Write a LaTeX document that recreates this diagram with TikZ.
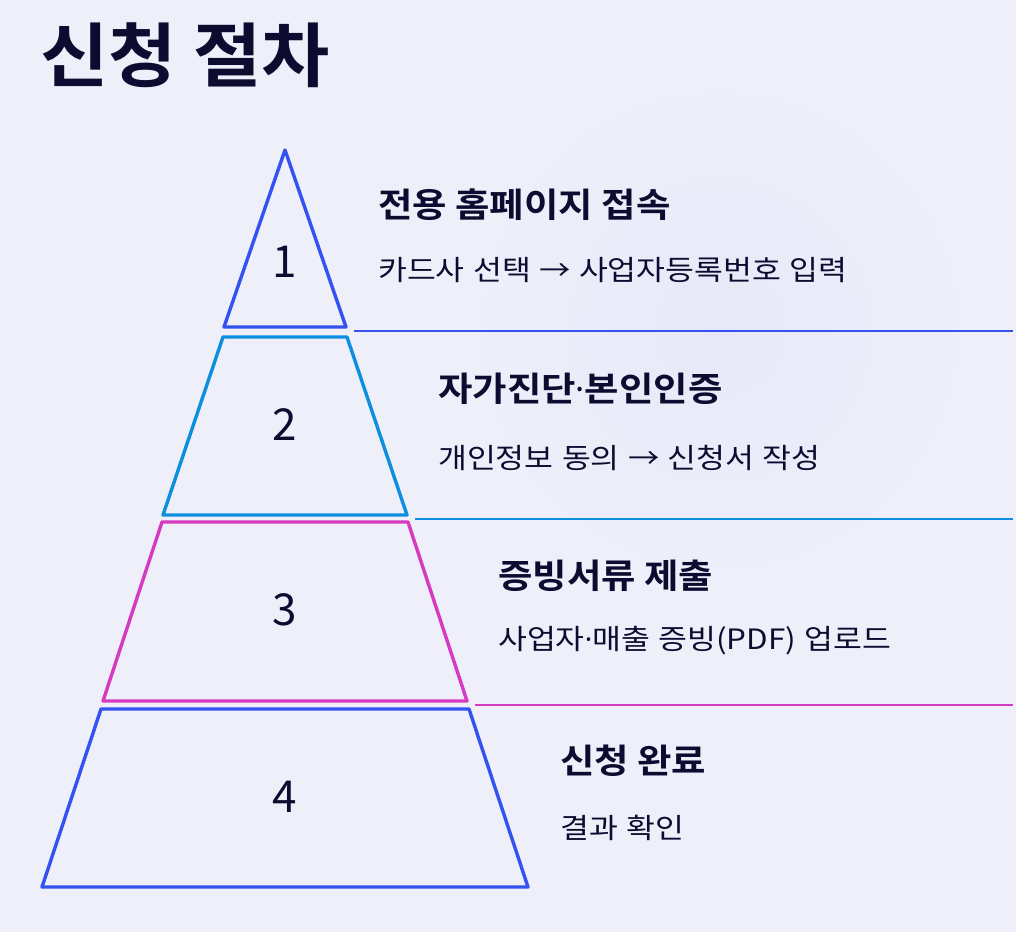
\documentclass[tikz,border=0pt]{standalone}
\usepackage{fontspec}
\setmainfont{Noto Sans CJK KR}[BoldFont={Noto Sans CJK KR Bold}]
\newfontfamily\titlefont{Noto Sans CJK KR}[BoldFont={Noto Sans CJK KR Bold}, FakeStretch=1.06]
\newfontfamily\headfont{Noto Sans CJK KR}[BoldFont={Noto Sans CJK KR Bold}, FakeStretch=1.1]
\newfontfamily\subfont{Noto Sans CJK KR}[FakeStretch=1.12, WordSpace=1.2]
\newfontfamily\dotfont{Noto Sans}
\newcommand{\mdot}{{\dotfont ·}}
\usetikzlibrary{calc}
\definecolor{bg}{HTML}{EFEFFA}
\definecolor{glow}{HTML}{E7E9F8}
\definecolor{ink}{HTML}{0C0C30}
\definecolor{lay1}{HTML}{3352F0}
\definecolor{lay2}{HTML}{0E8EDE}
\definecolor{lay3}{HTML}{D63AC0}
\definecolor{lay4}{HTML}{3352F0}
\tikzset{
  layer/.style={draw=#1, line width=3.4pt, line join=round},
  rule/.style={draw=#1, line width=1.6pt},
  numlbl/.style={font=\fontsize{44}{44}\selectfont, text=ink, inner sep=0},
  headline/.style={font=\headfont\fontsize{34}{34}\selectfont\bfseries, text=ink, anchor=west, inner sep=0},
  subline/.style={font=\subfont\fontsize{28}{28}\selectfont, text=ink, anchor=west, inner sep=0},
  title/.style={font=\titlefont\fontsize{70}{70}\selectfont\bfseries, text=ink, anchor=west, inner sep=0},
}

\begin{document}
\begin{tikzpicture}[x=1pt, y=-1pt]
  % page
  \fill[bg] (0,0) rectangle (1016,932);
  \shade[inner color=glow, outer color=bg] (720,330) circle (260);
  \useasboundingbox (0,0) rectangle (1016,932);

  \node[title] (title) at (40,55) {신청 절차};

  % pyramid layers, numbers and texts
  \foreach \i/\yt/\yb/\wt/\wb/\ny/\c/\tx/\hy/\sy/\hd/\sb in {
      1/150/327/0/61/262/lay1/378/205/270/{전용 홈페이지 접속}/{카드사 선택 → 사업자등록번호 입력},
      2/337/515/62/122/425/lay2/438/389/458/{자가진단\mdot 본인인증}/{개인정보 동의 → 신청서 작성},
      3/522/701/123/182/610/lay3/498/576/641/{증빙서류 제출}/{사업자\mdot 매출 증빙(PDF) 업로드},
      4/709/887/184/243/797/lay4/560/761/828/{신청 완료}/{결과 확인}} {
    \draw[layer=\c] (285-\wt,\yt) -- (285+\wt,\yt) -- (285+\wb,\yb) -- (285-\wb,\yb) -- cycle;
    \node[numlbl] (n\i) at (285,\ny) {\i};
    \node[headline] (h\i) at (\tx,\hy) {\hd};
    \node[subline] (s\i) at (\tx,\sy) {\sb};
    \coordinate (r\i) at (285+\wb+8,\yb+4);
  }

  % separators
  \foreach \i/\c in {1/lay1, 2/lay2, 3/lay3}
    \draw[rule=\c] (r\i) -- (r\i -| 1013,0);
\end{tikzpicture}
\end{document}
